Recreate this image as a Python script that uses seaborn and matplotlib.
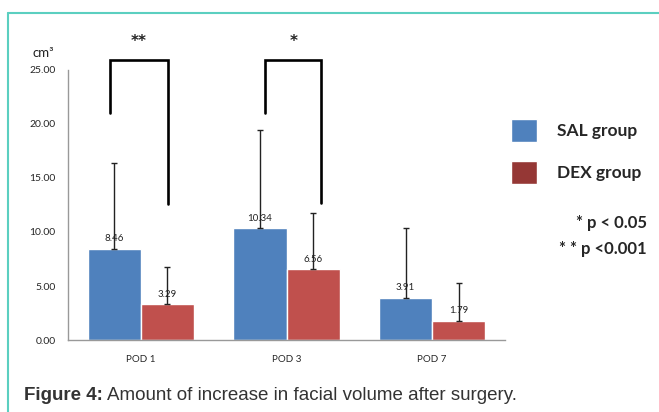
import numpy as np
import pandas as pd
import matplotlib
matplotlib.use("Agg")
import matplotlib.pyplot as plt
from matplotlib.lines import Line2D
import seaborn as sns

# values
days = ["POD 1", "POD 3", "POD 7"]
sal_mean = [8.46, 10.34, 3.91]
dex_mean = [3.29, 6.56, 1.79]
sal_sd = [7.9, 9.1, 6.5]
dex_sd = [3.5, 5.2, 3.5]
groups = ["SAL group", "DEX group"]
yticks = [0, 5, 10, 15, 20, 25]

# significance brackets: (category, left offset, right offset, top, left bottom, right bottom, stars)
brackets = [(0, -0.21, 0.185, 25.9, 21.0, 12.6, "**"),
            (1, -0.145, 0.24, 25.9, 21.0, 12.7, "*")]

df = pd.DataFrame({
    "day": days * 2,
    "group": [groups[0]] * 3 + [groups[1]] * 3,
    "mean": sal_mean + dex_mean,
    "sd": sal_sd + dex_sd,
})

sns.set_style("white")
plt.rcParams["font.family"] = ["Lato", "DejaVu Sans"]

fig = plt.figure(figsize=(6.59, 4.12), dpi=100)
ax = fig.add_axes([68/659, 1-340/412, (505-68)/659, 270/412])

sns.barplot(data=df, x="day", y="mean", hue="group", palette=["#4F81BD", "#C0504D"],
            errorbar=None, width=0.73, saturation=1, ax=ax)

# error bars (upper only) and value labels
for patch, (_, row) in zip(ax.patches, df.iterrows()):
    xc = patch.get_x() + patch.get_width()/2
    h = patch.get_height()
    ax.errorbar(xc, h, yerr=[[0], [row["sd"]]], fmt="none", ecolor="#222222",
                elinewidth=1, capsize=2.5, capthick=1)
    ax.text(xc, h + 0.5, f"{row['mean']:.2f}", ha="center", va="bottom", fontsize=7, color="#222222")

for cat, lo, ro, top, lb, rb, star in brackets:
    ax.plot([cat+lo, cat+lo, cat+ro, cat+ro], [lb, top, top, rb], color="black", lw=1.9,
            clip_on=False, solid_joinstyle="miter")
    ax.text(cat + (lo+ro)/2, top + 1.0, star, ha="center", va="bottom", fontsize=11,
            fontweight="bold", color="#222222", family="DejaVu Sans")

ax.set_xlim(-0.5, 2.5)
ax.set_ylim(0, 25)
ax.set_yticks(yticks)
ax.set_yticklabels([f"{v:.2f}" for v in yticks], fontsize=7.5)
ax.tick_params(axis="both", length=0)
ax.tick_params(axis="y", pad=9)
ax.tick_params(axis="x", pad=11, labelsize=7)
ax.set_xlabel("")
ax.set_ylabel("")
for s in ["top", "right"]:
    ax.spines[s].set_visible(False)
for s in ["left", "bottom"]:
    ax.spines[s].set_color("#999999")
    ax.spines[s].set_linewidth(1)

ax.text(-0.057, 1.063, "cm³", transform=ax.transAxes, ha="center", va="center", fontsize=9.5, color="#222222")

handles, labels = ax.get_legend_handles_labels()
handles[1].set_facecolor("#953735")
ax.legend(handles, labels, loc="upper left", bbox_to_anchor=(511/659, 1-119/412),
          bbox_transform=fig.transFigure, frameon=False, prop={"weight": "bold", "size": 12.5},
          handlelength=1.5, handleheight=1.7, handletextpad=1.15, labelspacing=1.05,
          borderpad=0, borderaxespad=0)

fig.text(647/659, 1-223/412, "* p < 0.05", ha="right", va="center", fontsize=12, fontweight="bold")
fig.text(647/659, 1-249/412, "* * p <0.001", ha="right", va="center", fontsize=12, fontweight="bold")

# caption
cap1 = fig.text(24/659, 1-395/412, "Figure 4:", ha="left", va="center", fontsize=13.5,
                fontweight="bold", color="#333333", family="Liberation Sans")
fig.canvas.draw()
bb = cap1.get_window_extent(fig.canvas.get_renderer())
fig.text(bb.x1/659 + 4/659, 1-395/412, "Amount of increase in facial volume after surgery.",
         ha="left", va="center", fontsize=13.5, color="#333333", family="Liberation Sans")

# frame lines
fig.add_artist(Line2D([8/659, 1], [1-12.5/412]*2, transform=fig.transFigure, color="#5BCFC0", lw=1.5))
fig.add_artist(Line2D([8/659]*2, [0, 1-12.5/412], transform=fig.transFigure, color="#5BCFC0", lw=1.5))

fig.savefig("out.png", dpi=100)
